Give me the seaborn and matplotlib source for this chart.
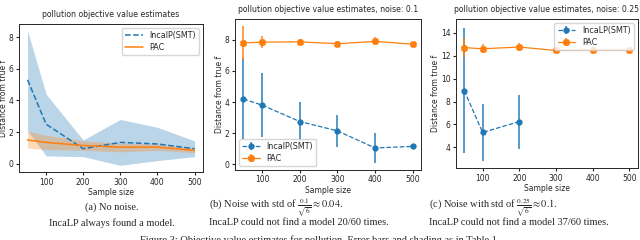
import numpy as np
import pandas as pd
import matplotlib
matplotlib.use("Agg")
import matplotlib.pyplot as plt
import seaborn as sns

# sample sizes
sizes = [50, 100, 200, 300, 400, 500]

# (a) no noise: mean and shaded band
incal_a = [5.3, 2.5, 0.95, 1.35, 1.25, 0.95]
incal_a_lo = [2.1, 0.5, 0.45, -0.1, 0.2, 0.45]
incal_a_hi = [8.4, 4.4, 1.5, 2.8, 2.3, 1.45]
pac_a = [1.5, 1.35, 1.15, 1.05, 1.05, 0.85]
pac_a_lo = [1.0, 0.9, 0.85, 0.75, 0.85, 0.7]
pac_a_hi = [2.05, 1.8, 1.45, 1.3, 1.25, 1.0]

# (b) noise 0.1: mean and std
incal_b = [4.2, 3.8, 2.75, 2.15, 1.05, 1.15]
incal_b_err = [2.6, 2.05, 1.25, 1.02, 0.97, 0.12]
pac_b = [7.8, 7.85, 7.87, 7.75, 7.9, 7.72]
pac_b_err = [1.1, 0.4, 0.2, 0.2, 0.25, 0.15]

# (c) noise 0.25: IncaLP only found models for the first three sizes
sizes_c = [50, 100, 200]
incal_c = [8.95, 5.3, 6.25]
incal_c_err = [5.45, 2.5, 2.35]
pac_c = [12.7, 12.6, 12.75, 12.45, 12.5, 12.5]
pac_c_err = [0.85, 0.4, 0.35, 0.3, 0.3, 0.25]

titles = ["pollution objective value estimates",
          "pollution objective value estimates, noise: 0.1",
          "pollution objective value estimates, noise: 0.25"]
cap_line1 = ["(a) No noise.",
             "(b) Noise with std of $\\frac{0.1}{\\sqrt{6}} \\approx 0.04$.",
             "(c) Noise with std of $\\frac{0.25}{\\sqrt{6}} \\approx 0.1$."]
cap_line2 = ["IncaLP always found a model.",
             "IncaLP could not find a model 20/60 times.",
             "IncaLP could not find a model 37/60 times."]

sns.set_style("ticks")
plt.rcParams["font.family"] = ["DejaVu Sans"]
plt.rcParams["mathtext.fontset"] = "stix"

blue = sns.color_palette("tab10")[0]
orange = sns.color_palette("tab10")[1]

fig = plt.figure(figsize=(6.4, 2.4), dpi=100)
ax1 = fig.add_axes([0.03, 0.283, 0.287, 0.617])
ax2 = fig.add_axes([0.367, 0.292, 0.291, 0.629])
ax3 = fig.add_axes([0.7125, 0.30, 0.284, 0.621])

# panel a
df_a = pd.DataFrame({"size": sizes, "incal": incal_a, "pac": pac_a})
ax1.fill_between(sizes, incal_a_lo, incal_a_hi, color=blue, alpha=0.3, lw=0)
ax1.fill_between(sizes, pac_a_lo, pac_a_hi, color=orange, alpha=0.3, lw=0)
sns.lineplot(data=df_a, x="size", y="incal", ax=ax1, color=blue, ls="--", lw=1.1, label="IncalP(SMT)")
sns.lineplot(data=df_a, x="size", y="pac", ax=ax1, color=orange, lw=1.1, label="PAC")

# panel b
ax2.errorbar(sizes, incal_b, yerr=incal_b_err, color=blue, ls="--", lw=0.9, marker="o", ms=3.5,
             elinewidth=1.4, ecolor=(*blue, 0.75), label="IncalP(SMT)")
ax2.errorbar(sizes, pac_b, yerr=pac_b_err, color=orange, ls="-", lw=0.9, marker="X", ms=4,
             elinewidth=1.4, ecolor=(*orange, 0.75), label="PAC")

# panel c
ax3.errorbar(sizes_c, incal_c, yerr=incal_c_err, color=blue, ls="--", lw=0.9, marker="o", ms=3.5,
             elinewidth=1.4, ecolor=(*blue, 0.75), label="IncaLP(SMT)")
ax3.errorbar(sizes, pac_c, yerr=pac_c_err, color=orange, ls="-", lw=0.9, marker="X", ms=4,
             elinewidth=1.4, ecolor=(*orange, 0.75), label="PAC")
ax3.set_yticks([4, 6, 8, 10, 12, 14])
ax3.set_ylim(2.2, 15.2)

leg_kw = dict(fontsize=5.8, borderpad=0.4, labelspacing=0.3, handlelength=2.2)
ax1.legend(loc="upper right", **leg_kw)
ax2.legend(loc="lower left", **leg_kw)
ax3.legend(loc="upper right", **leg_kw)

for ax, t in zip([ax1, ax2, ax3], titles):
    ax.set_title(t, fontsize=5.6, pad=5)
    ax.set_xlabel("Sample size", fontsize=5.5, labelpad=1)
    ax.set_ylabel("Distance from true f", fontsize=5.5, labelpad=0.5)
    ax.set_xticks([100, 200, 300, 400, 500])
    ax.tick_params(labelsize=5.5, length=2.5, pad=1.5)
    for s in ax.spines.values():
        s.set_linewidth(0.7)

cap_font = dict(family="Liberation Serif", fontsize=7.5, va="center")
fig.text(0.175, 0.137, cap_line1[0], ha="center", **cap_font)
fig.text(0.175, 0.072, cap_line2[0], ha="center", **cap_font)
for i, x0 in [(1, 0.327), (2, 0.671)]:
    fig.text(x0, 0.137, cap_line1[i], ha="left", **cap_font)
    fig.text(x0, 0.072, cap_line2[i], ha="left", **cap_font)
fig.text(0.5, 0.0, "Figure 3: Objective value estimates for pollution. Error bars and shading as in Table 1.",
         family="Liberation Serif", fontsize=7.5, ha="center", va="center")

fig.savefig("out.png", dpi=100)
